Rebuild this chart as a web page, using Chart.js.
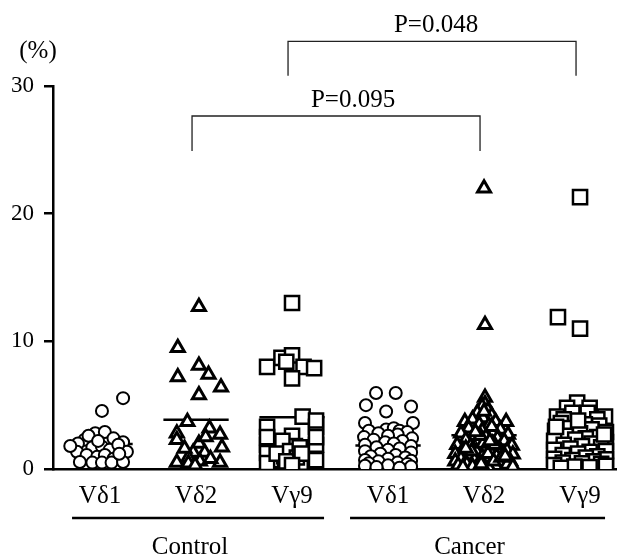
<!DOCTYPE html>
<html>
<head>
<meta charset="utf-8">
<script src="https://cdn.jsdelivr.net/npm/chart.js@4.4.1/dist/chart.umd.min.js"></script>
<style>
  html, body { margin: 0; padding: 0; background: #fff; }
  canvas { display: block; }
</style>
</head>
<body>
<canvas id="c" width="617" height="558"></canvas>
<script>
// ---------- data ----------
const categories = ['Vδ1', 'Vδ2', 'Vγ9', 'Vδ1', 'Vδ2', 'Vγ9'];
const groups = ['Control', 'Cancer'];
const unitLabel = '(%)';
const yTicks = [0, 10, 20, 30];
const means = [1.95, 3.85, 4.05, 1.85, 2.65, 2.9];
const comparisons = [[3, 6], [2, 5]];
const pLabels = ['P=0.048', 'P=0.095'];

// Control Vδ1 (circles): values and horizontal jitter within the column
const ctrlD1Y = [5.55,4.55,2.8,2.9,2.3,2.4,2.1,2.0,1.7,1.75,1.5,1.35,1.35,1.1,0.95,1.1,0.8,0.55,0.5,0.5,0.5,0.55,1.8,1.9,2.6,1.2,2.2];
const ctrlD1J = [0.24,0.02,-0.05,0.05,-0.16,0.14,0.24,-0.23,-0.08,0.02,0.10,0.28,-0.24,-0.14,-0.03,0.05,0.14,-0.21,-0.08,0.02,0.12,0.24,-0.31,0.19,-0.12,0.2,-0.02];
// Control Vδ2 (triangles)
const ctrlD2Y = [12.7,9.5,8.1,7.4,7.2,6.4,5.8,3.7,3.2,2.8,2.7,2.3,2.0,1.7,1.3,1.3,0.9,0.5,0.6,0.5,0.45,0.8,0.3,1.6,2.5];
const ctrlD2J = [0.03,-0.19,0.03,0.13,-0.19,0.26,0.03,-0.09,0.14,-0.20,0.25,-0.20,0.03,0.27,-0.03,0.09,-0.08,-0.20,0.04,0.25,-0.08,0.15,-0.01,-0.12,0.1];
// Control Vγ9 (squares)
const ctrlG9Y = [13.0,8.0,8.7,8.9,8.0,7.9,7.1,8.4, 4.1,3.3,3.3,2.6,1.9,1.9,1.5,1.3,0.7,0.7, 2.5,1.25,0.47,3.8,2.5, 1.0,0.8,1.1,1.6,1.8,0.4,0.5,2.2,1.2, 1.4,0.9,0.6,1.7,1.2,0.3];
const ctrlG9J = [0,-0.26,-0.11,0,0.12,0.23,0,-0.06, 0.11,-0.26,0.25,0,-0.26,0.25,-0.10,0.04,-0.22,0.25, -0.26,-0.26,-0.26,0.25,0.25, -0.08,-0.01,0.07,-0.05,0.03,-0.03,0.09,-0.10,-0.16, -0.02,0.05,-0.06,0.08,0.1,0.0];
// Cancer Vδ1 (circles)
const canD1Y = [5.95,5.95,5.0,4.9,4.5,3.6,3.6,3.1,3.2,3.0,
  3.0,2.9,2.8,2.7,2.6,2.5,2.4,2.3,2.2,2.1,2.0,1.9,1.8,1.7,1.6,1.5,1.4,1.3,1.2,1.1,1.0,0.9,0.8,0.7,0.65,0.6,0.5,0.45,0.4,0.3,0.25,0.2,0.15,0.1];
const canD1J = [-0.125,0.08,-0.23,0.24,-0.02,-0.24,0.26,-0.02,0.06,0.12,
  -0.2,0.2,-0.1,0.1,0.0,-0.25,0.25,-0.15,0.15,-0.03,0.06,-0.24,0.24,-0.12,0.12,0.0,-0.24,0.24,-0.08,0.08,-0.18,0.18,0.0,-0.24,0.24,-0.1,0.1,-0.2,0.2,0.0,-0.24,0.24,-0.12,0.12];
// Cancer Vδ2 (triangles)
const canD2Y = [22.0,11.3,5.6,5.1,3.7,3.7,
  4.9,4.6,4.4,4.2,4.0,3.9,3.7,3.5,3.4,3.2,3.1,3.0,2.9,2.8,2.7,2.6,2.5,2.4,2.3,2.2,2.1,2.0,1.9,1.85,
  1.8,1.7,1.6,1.5,1.45,1.4,1.3,1.2,1.15,1.1,1.0,0.95,0.9,0.8,0.75,0.7,0.65,0.6,0.55,0.5,
  0.45,0.4,0.35,0.3,0.3,0.25,0.2,0.2,0.15,0.1,4.5,2.0,1.2,0.6,
  3.3,2.6,1.9,1.4,0.9,0.4,2.9,2.2,1.6,1.0];
const canD2J = [0,0.01,0.01,0.01,-0.2,0.23,
  -0.02,0.04,-0.07,0.08,-0.01,-0.12,0.12,-0.05,0.05,-0.16,0.17,-0.02,0.08,-0.24,0.25,-0.11,0.02,0.14,-0.19,0.21,-0.06,0.09,-0.28,0.29,
  -0.14,0.0,0.16,-0.22,0.24,-0.08,0.07,-0.3,0.3,-0.16,0.13,-0.02,0.21,-0.24,0.05,-0.1,0.27,-0.3,0.16,-0.05,
  0.08,-0.18,0.24,-0.27,0.0,0.12,-0.12,0.3,-0.22,0.05,0.0,-0.01,0.04,0.1,
  0.08,-0.04,0.11,-0.13,0.18,-0.03,-0.09,0.06,-0.19,0.22];
// Cancer Vγ9 (squares)
const canG9Y = [21.3,11.9,11.0,5.2,4.8,4.8,4.1,4.1,4.4,4.4,3.9,3.9,
  3.6,3.5,3.4,3.2,3.1,3.0,2.9,2.8,2.6,2.5,2.4,2.3,2.2,2.1,2.0,1.9,1.8,1.7,1.6,1.5,1.4,1.35,1.2,1.1,1.0,
  0.9,0.8,0.75,0.7,0.6,0.5,0.45,0.4,0.3,0.25,0.2,0.15,0.1,3.8,3.3,2.7];
const canG9J = [0,-0.23,0,-0.03,-0.135,0.1,-0.24,0.26,-0.08,0.08,-0.17,0.18,
  -0.2,0.05,0.2,-0.1,0.12,-0.26,0.27,0.0,-0.15,0.18,0.06,-0.05,-0.27,0.27,0.12,-0.17,0.02,0.22,-0.1,-0.27,0.27,0.1,-0.02,-0.18,0.18,
  0.06,-0.27,0.27,-0.08,0.14,-0.18,0.02,0.22,-0.27,0.27,-0.06,0.1,-0.2,-0.02,-0.25,0.25];

// ---------- build ----------
const seriesY = [ctrlD1Y, ctrlD2Y, ctrlG9Y, canD1Y, canD2Y, canG9Y];
const seriesJ = [ctrlD1J, ctrlD2J, ctrlG9J, canD1J, canD2J, canG9J];
const shapes = ['circle', 'triangle', 'rect', 'circle', 'triangle', 'rect'];
const radii = { circle: 6, triangle: 7.5, rect: 10 };
const widths = { circle: 2, triangle: 3, rect: 2.5 };

const datasets = [];
seriesY.forEach((ys, g) => {
  datasets.push({
    type: 'scatter',
    data: ys.map((v, i) => ({ x: g + 1 + seriesJ[g][i], y: v })),
    pointStyle: shapes[g],
    pointRadius: radii[shapes[g]],
    pointBorderWidth: widths[shapes[g]],
    pointBorderColor: '#000',
    pointBackgroundColor: '#fff',
    pointHoverRadius: radii[shapes[g]],
    order: 1,
    clip: { left: 20, right: 20, top: 20, bottom: 0 }
  });
});
means.forEach((m, g) => {
  datasets.push({
    type: 'line',
    data: [{ x: g + 1 - 0.34, y: m }, { x: g + 1 + 0.34, y: m }],
    borderColor: '#000',
    borderWidth: 2.5,
    pointRadius: 0,
    showLine: true,
    order: 2
  });
});

const serif = '"Liberation Serif", "Times New Roman", serif';

const overlay = {
  id: 'overlay',
  afterDraw(chart) {
    const { ctx, chartArea, scales: { x, y } } = chart;
    ctx.save();
    ctx.fillStyle = '#000';
    ctx.font = '25px ' + serif;
    ctx.textAlign = 'center';
    ctx.textBaseline = 'middle';
    ctx.fillText(unitLabel, chartArea.left - 15, chartArea.top - 35);

    // significance brackets
    const levels = [{ top: 33.5, leg: 30.8, dx: 4 }, { top: 27.65, leg: 24.9, dx: 17 }];
    ctx.strokeStyle = '#222';
    ctx.lineWidth = 1.3;
    comparisons.forEach((pair, i) => {
      const xl = x.getPixelForValue(pair[0]) - 4;
      const xr = x.getPixelForValue(pair[1]) - 4;
      const yt = y.getPixelForValue(levels[i].top);
      const yb = y.getPixelForValue(levels[i].leg);
      ctx.beginPath();
      ctx.moveTo(xl, yb); ctx.lineTo(xl, yt); ctx.lineTo(xr, yt); ctx.lineTo(xr, yb);
      ctx.stroke();
      ctx.textBaseline = 'alphabetic';
      ctx.font = '25px ' + serif;
      ctx.fillText(pLabels[i], (xl + xr) / 2 + levels[i].dx, yt - 9);
    });

    // group underlines and labels
    const spans = [[x.getPixelForValue(1) - 28, x.getPixelForValue(3) + 32],
                   [x.getPixelForValue(4) - 38, x.getPixelForValue(6) + 25]];
    ctx.strokeStyle = '#000';
    ctx.lineWidth = 2.7;
    ctx.font = '25px ' + serif;
    ctx.textBaseline = 'middle';
    groups.forEach((g, i) => {
      const ly = chartArea.bottom + 49;
      ctx.beginPath();
      ctx.moveTo(spans[i][0], ly); ctx.lineTo(spans[i][1], ly);
      ctx.stroke();
      ctx.fillText(g, (spans[i][0] + spans[i][1]) / 2 - 8, chartArea.bottom + 78);
    });
    ctx.restore();
  }
};

new Chart(document.getElementById('c'), {
  type: 'scatter',
  data: { datasets },
  options: {
    responsive: false,
    animation: false,
    events: [],
    layout: { autoPadding: false, padding: { top: 86, left: 0, right: 0, bottom: 0 } },
    plugins: { legend: { display: false }, tooltip: { enabled: false } },
    scales: {
      x: {
        type: 'linear',
        min: 0.51,
        max: 6.385,
        afterFit(s) { s.height = 89; s.paddingLeft = 0; s.paddingRight = 0; },
        afterBuildTicks(s) { s.ticks = categories.map((c, i) => ({ value: i + 1 })); },
        grid: { display: false, drawTicks: false },
        border: { display: true, color: '#000', width: 2.5 },
        ticks: {
          autoSkip: false,
          maxRotation: 0,
          padding: 12,
          color: '#000',
          font: { family: serif, size: 25 },
          callback: (v) => categories[Math.round(v) - 1]
        }
      },
      y: {
        min: 0,
        max: 30,
        afterFit(s) { s.width = 53; },
        afterBuildTicks(s) { s.ticks = yTicks.map(v => ({ value: v })); },
        grid: { display: true, drawOnChartArea: false, drawTicks: true, tickLength: 9, color: '#000', lineWidth: 2.5 },
        border: { display: true, color: '#000', width: 2.5 },
        ticks: {
          padding: 10,
          color: '#000',
          font: { family: serif, size: 23 }
        }
      }
    }
  },
  plugins: [overlay]
});
</script>
</body>
</html>
